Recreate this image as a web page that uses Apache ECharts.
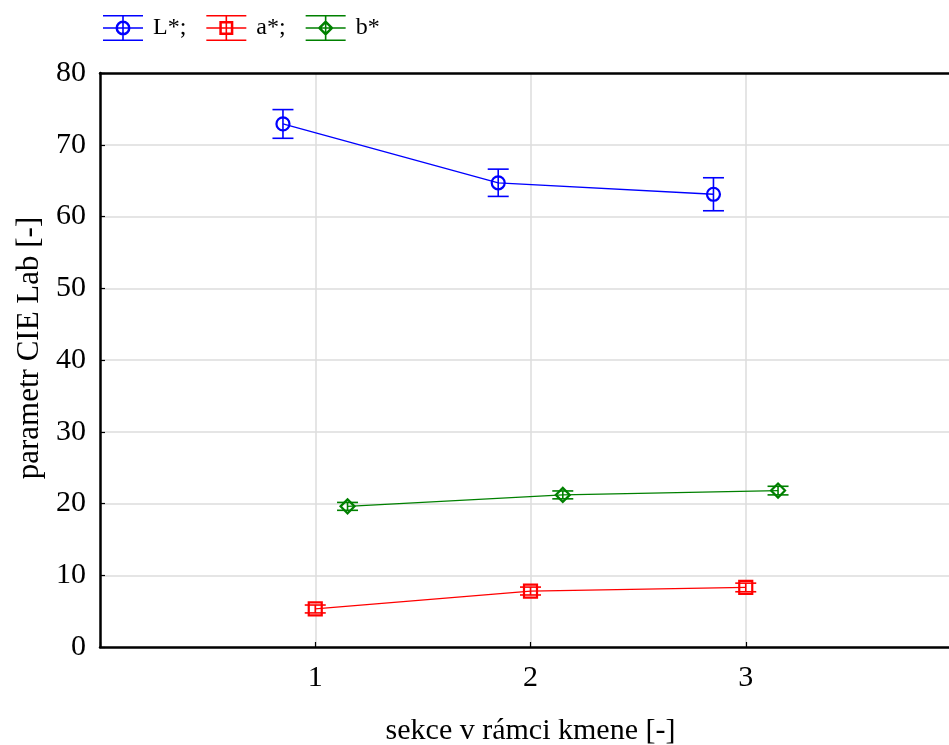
<!DOCTYPE html>
<html>
<head>
<meta charset="utf-8">
<script src="https://cdn.jsdelivr.net/npm/echarts@6/dist/echarts.min.js"></script>
<style>html,body{margin:0;padding:0;background:#fff;}#c{width:949px;height:745px;overflow:hidden;}</style>
</head>
<body>
<div id="c"></div>
<script>
// ---- data ----
var seriesNames = ['L*;', 'a*;', 'b*'];
var xTickLabels = ['1', '2', '3'];
var L_x = [0.85, 1.85, 2.85];
var L_mean = [72.9, 64.7, 63.1];
var L_err = [2.0, 1.9, 2.3];
var a_x = [1, 2, 3];
var a_mean = [5.3, 7.8, 8.3];
var a_err = [0.55, 0.55, 0.6];
var b_x = [1.15, 2.15, 3.15];
var b_mean = [19.6, 21.2, 21.8];
var b_err = [0.55, 0.55, 0.6];

var colors = ['#0000ff', '#ff0000', '#008000'];
var FONT = 'Liberation Serif';

function pts(xs, ys) { return xs.map(function (x, i) { return [x, ys[i]]; }); }
function bars(xs, ys, es) { return xs.map(function (x, i) { return [x, ys[i] - es[i], ys[i] + es[i]]; }); }

var linesPath = 'M0 0H40V1.6H0Z M0 12.2H40V13.8H0Z M0 24.4H40V26H0Z M19.2 0H20.8V26H19.2Z ';
var icons = [
  'path://' + linesPath + 'M12.5 13A7.5 7.5 0 1 1 27.5 13A7.5 7.5 0 1 1 12.5 13Z M15 13A5 5 0 1 0 25 13A5 5 0 1 0 15 13Z',
  'path://' + linesPath + 'M13 6H27V20H13Z M15.5 8.5V17.5H24.5V8.5Z',
  'path://' + linesPath + 'M20 5L28 13L20 21L12 13Z M20 8.5L15.5 13L20 17.5L24.5 13Z'
];

function errRender(color) {
  return function (params, api) {
    var x = api.value(0);
    var lo = api.coord([x, api.value(1)]);
    var hi = api.coord([x, api.value(2)]);
    var w = 10.5;
    var st = { stroke: color, lineWidth: 1.6, fill: null };
    return {
      type: 'group',
      children: [
        { type: 'line', shape: { x1: lo[0], y1: lo[1], x2: hi[0], y2: hi[1] }, style: st },
        { type: 'line', shape: { x1: lo[0] - w, y1: lo[1], x2: lo[0] + w, y2: lo[1] }, style: st },
        { type: 'line', shape: { x1: hi[0] - w, y1: hi[1], x2: hi[0] + w, y2: hi[1] }, style: st }
      ]
    };
  };
}

var symbols = ['circle', 'rect', 'diamond'];
var symSizes = [13, 13, 14];
var means = [pts(L_x, L_mean), pts(a_x, a_mean), pts(b_x, b_mean)];
var errs = [bars(L_x, L_mean, L_err), bars(a_x, a_mean, a_err), bars(b_x, b_mean, b_err)];

var series = [];
for (var i = 0; i < 3; i++) {
  series.push({
    name: seriesNames[i],
    type: 'line',
    data: means[i],
    symbol: symbols[i],
    symbolSize: symSizes[i],
    showSymbol: true,
    color: colors[i],
    lineStyle: { color: colors[i], width: 1.3 },
    itemStyle: { color: 'rgba(0,0,0,0)', borderColor: colors[i], borderWidth: 2.2 },
    emphasis: { disabled: true },
    z: 3
  });
  series.push({
    name: seriesNames[i],
    type: 'custom',
    data: errs[i],
    renderItem: errRender(colors[i]),
    encode: { x: 0, y: [1, 2] },
    z: 2,
    silent: true
  });
}

var chart = echarts.init(document.getElementById('c'), null, { renderer: 'canvas' });
chart.setOption({
  animation: false,
  backgroundColor: '#ffffff',
  textStyle: { fontFamily: FONT },
  legend: {
    left: 103,
    top: 15,
    padding: 0,
    itemWidth: 40,
    itemHeight: 26,
    itemGap: 20,
    selectedMode: false,
    textStyle: { fontFamily: FONT, fontSize: 24, color: '#000', padding: [0, 0, 0, 5] },
    data: seriesNames.map(function (n, i) {
      return { name: n, icon: icons[i], itemStyle: { color: colors[i], borderWidth: 0 } };
    })
  },
  grid: {
    left: 100, width: 861, top: 73, bottom: 98,
    outerBoundsMode: 'none',
    containLabel: false,
    show: false
  },
  xAxis: [{
    type: 'value',
    min: 0, max: 4, interval: 1,
    name: 'sekce v rámci kmene [-]',
    nameLocation: 'middle',
    nameGap: 69,
    nameTextStyle: { fontFamily: FONT, fontSize: 30, color: '#000' },
    axisLine: { show: true, onZero: false, lineStyle: { color: '#000', width: 2.5 } },
    axisTick: { show: true, inside: true, length: 5, lineStyle: { color: '#000', width: 1.2 } },
    axisLabel: {
      fontFamily: FONT, fontSize: 30, color: '#000', margin: 16,
      formatter: function (v) { var s = String(v); return xTickLabels.indexOf(s) >= 0 ? s : ''; }
    },
    splitLine: { show: true, showMinLine: false, showMaxLine: false, lineStyle: { color: '#dcdcdc', width: 1.5 } }
  }, {
    type: 'value',
    position: 'top',
    min: 0, max: 4, interval: 1,
    axisLine: { show: true, onZero: false, lineStyle: { color: '#000', width: 2.5 } },
    axisTick: { show: false },
    axisLabel: { show: false },
    splitLine: { show: false }
  }],
  yAxis: {
    type: 'value',
    min: 0, max: 80, interval: 10,
    name: 'parametr CIE Lab [-]',
    nameLocation: 'middle',
    nameGap: 53,
    nameRotate: 90,
    nameTextStyle: { fontFamily: FONT, fontSize: 31, color: '#000', padding: [0, 0, 0, 24] },
    axisLine: { show: true, lineStyle: { color: '#000', width: 2.5 } },
    axisTick: { show: true, inside: true, length: 5, lineStyle: { color: '#000', width: 1.2 } },
    axisLabel: { fontFamily: FONT, fontSize: 30, color: '#000', margin: 14 },
    splitLine: { show: true, showMinLine: false, showMaxLine: false, lineStyle: { color: '#dcdcdc', width: 1.5 } }
  },
  series: series
});
</script>
</body>
</html>
